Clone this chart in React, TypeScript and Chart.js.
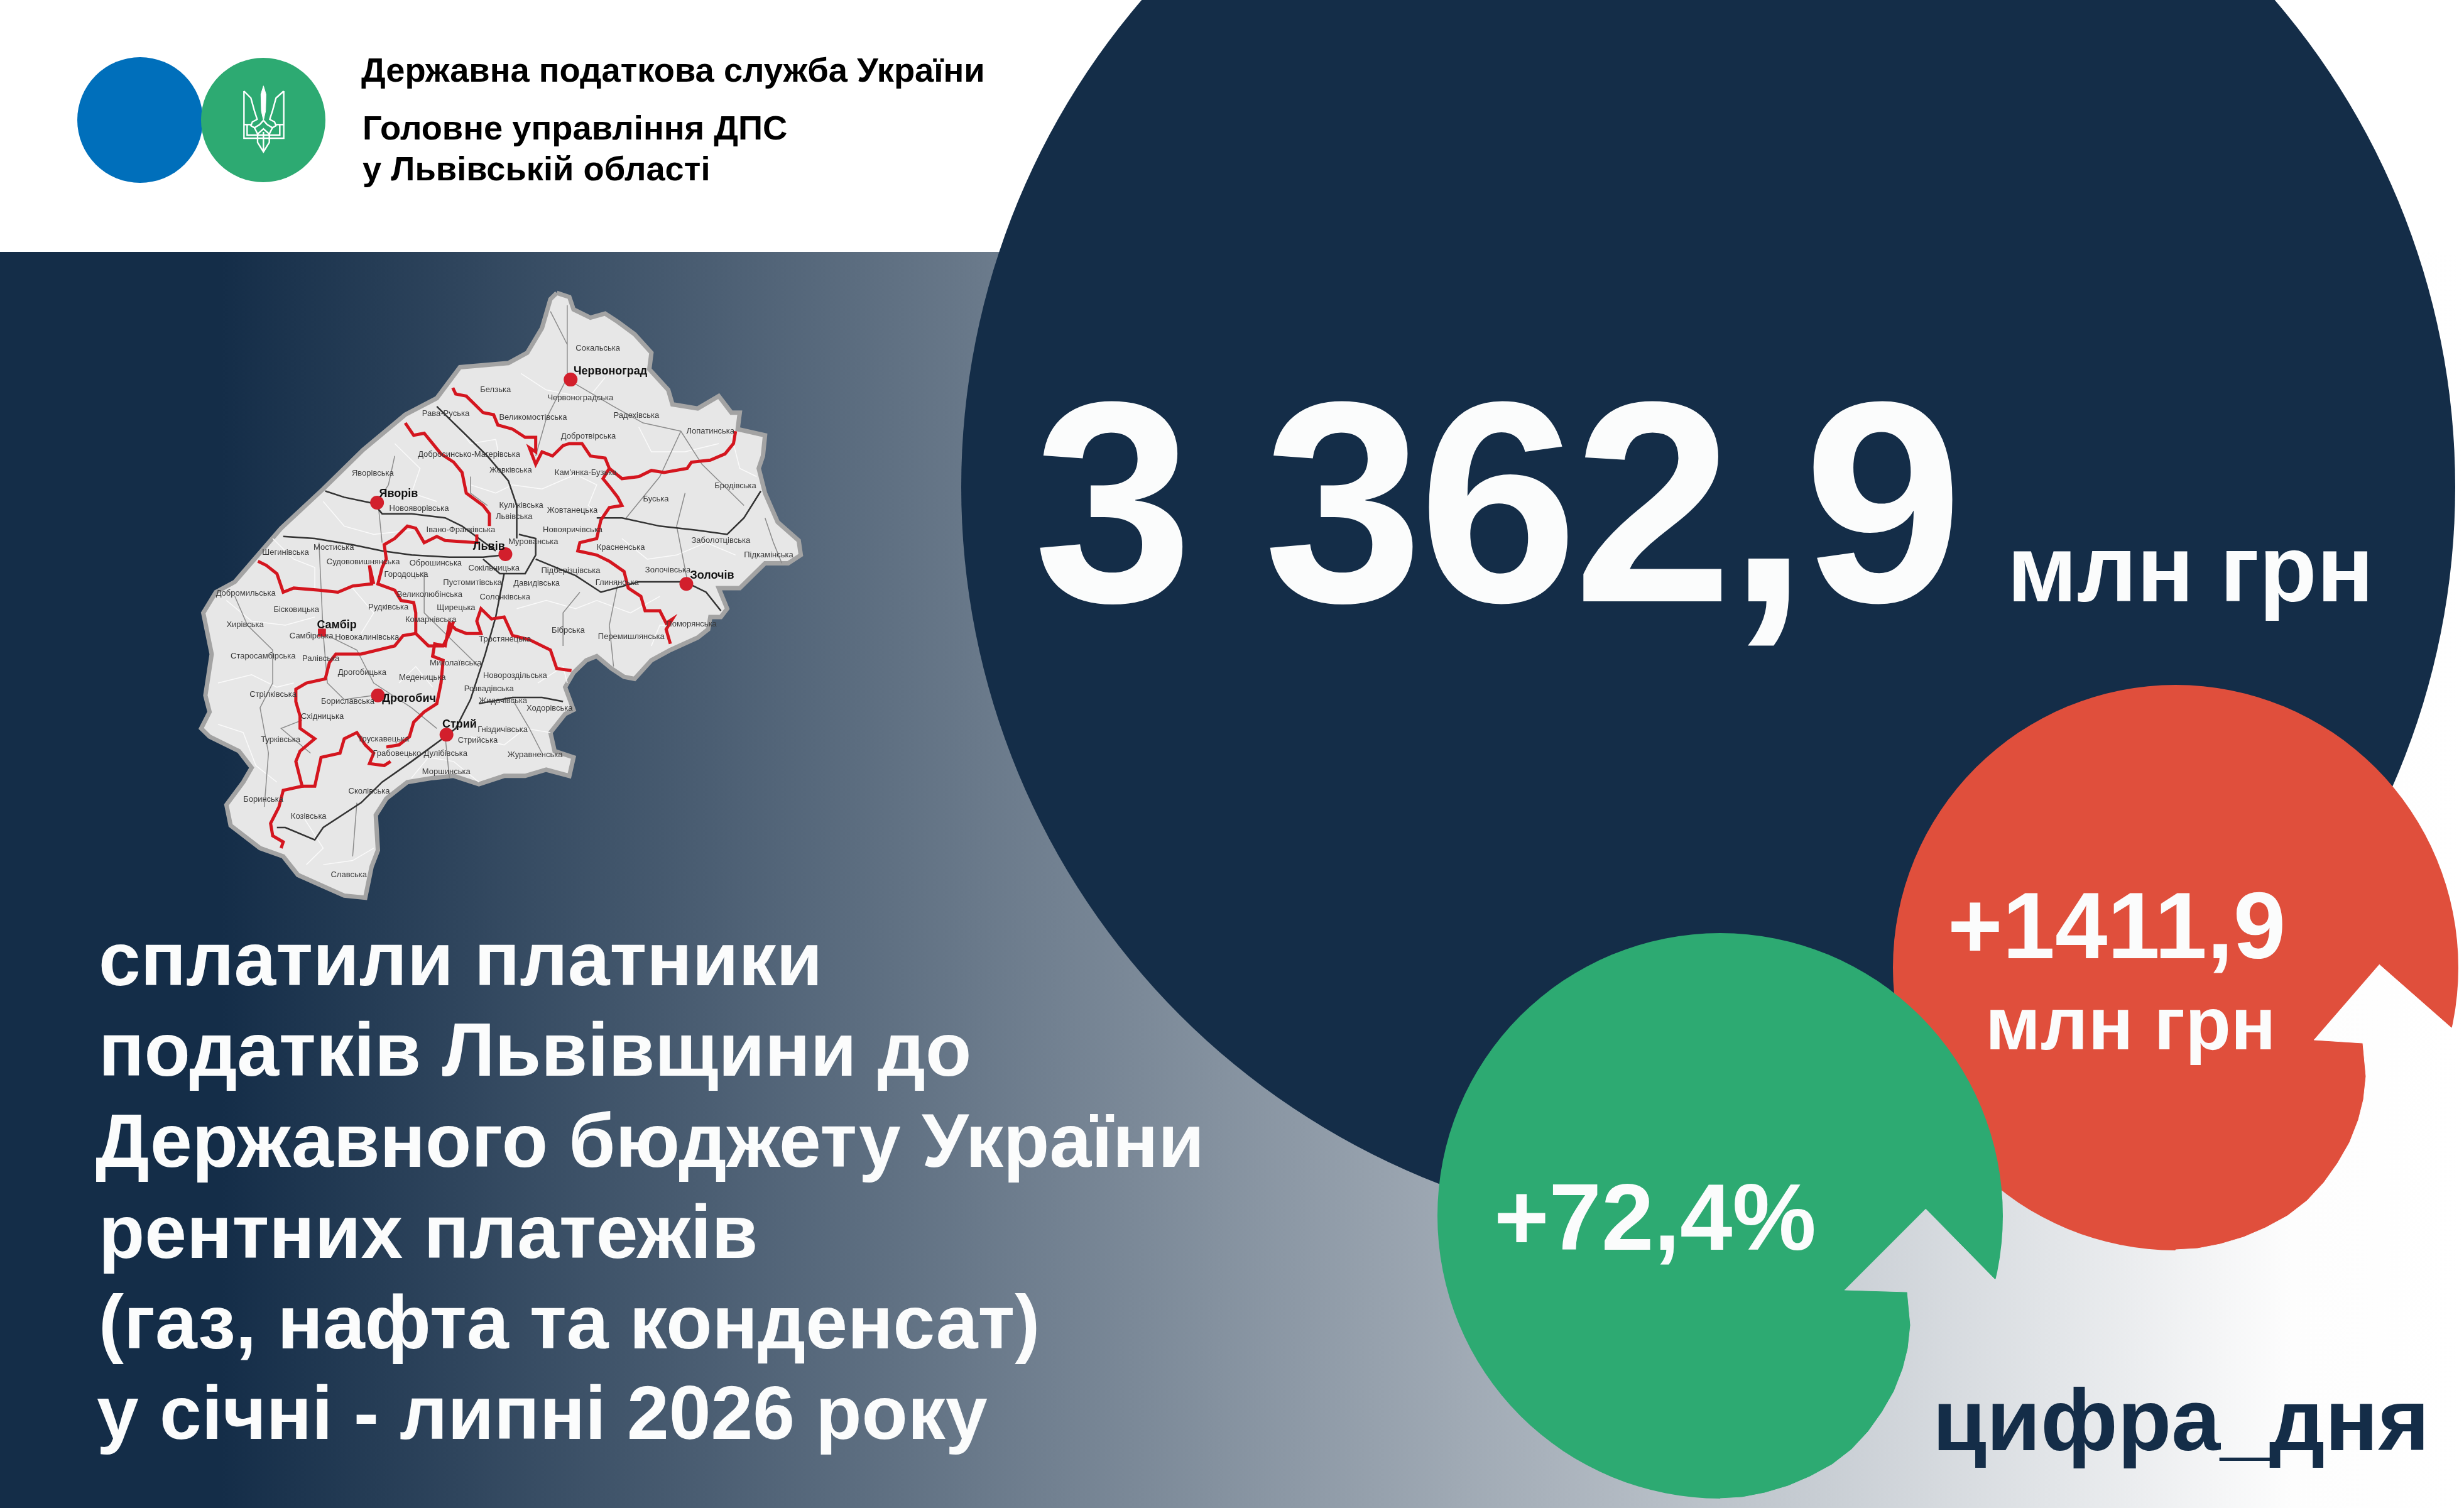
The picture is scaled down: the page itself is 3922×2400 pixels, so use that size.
import React, { useEffect, useRef } from "react";
import { Chart, registerables } from "chart.js";

Chart.register(...registerables);

const NAVY = "#142D48";
const WHITE = "#FBFCFC";
const W = 3922;
const H = 2400;

// circles: [x, y, r]
const navyCircle = [2719, 775, 1189];
const redCircle = [3463, 1540, 450];
const greenCircle = [2738, 1935, 450];
const logoBlue = [223, 191, 100];
const logoGreen = [419, 191, 99];

// cut-outs that reveal the background: arrow head and inner sweep
const redCut: number[][] = [[3787, 1535], [3902, 1636], [3960, 1636], [3960, 2045], [3463, 2045], [3463, 1989], [3498, 1987], [3534, 1980], [3571, 1969], [3606, 1954], [3641, 1935], [3672, 1911], [3699, 1882], [3721, 1851], [3740, 1818], [3754, 1782], [3762, 1750], [3766, 1713], [3761, 1660], [3683, 1655]];
const greenCut: number[][] = [[3065, 1924], [3175, 2036], [3260, 2036], [3260, 2430], [2738, 2430], [2738, 2385], [2773, 2383], [2809, 2376], [2846, 2365], [2881, 2350], [2916, 2331], [2947, 2307], [2974, 2278], [2996, 2247], [3015, 2214], [3029, 2178], [3037, 2146], [3041, 2109], [3036, 2056], [2936, 2053]];

// trident in the logo, in emblem coordinates
const tridentSpear: number[][] = [[178, 50], [190, 90], [188, 170], [178, 215], [168, 170], [166, 90], [178, 50]];
const tridentStrokes: number[][][] = [
  [[85, 75], [85, 300], [275, 300], [275, 75]],
  [[85, 75], [118, 108], [135, 170], [148, 210], [125, 222], [118, 240], [135, 250], [160, 235], [178, 215]],
  [[275, 75], [238, 108], [221, 170], [208, 210], [231, 222], [238, 240], [221, 250], [196, 235], [178, 215]],
  [[135, 250], [150, 280], [150, 320], [178, 365], [206, 320], [206, 280], [221, 250]],
  [[150, 280], [178, 255], [206, 280]],
  [[178, 270], [178, 360]],
  [[100, 235], [100, 285], [256, 285], [256, 235]],
  [[85, 235], [118, 235]],
  [[275, 235], [238, 235]],
];

// Oblast outline, in map coordinates
const mapOutline: number[][] = [[905, 55], [935, 65], [945, 95], [985, 115], [1020, 105], [1050, 125], [1090, 155], [1130, 200], [1125, 240], [1170, 290], [1180, 325], [1240, 335], [1290, 305], [1320, 345], [1340, 345], [1335, 385], [1400, 400], [1395, 450], [1385, 480], [1400, 540], [1430, 610], [1480, 655], [1485, 690], [1455, 710], [1400, 710], [1340, 770], [1290, 770], [1310, 820], [1295, 840], [1270, 840], [1265, 870], [1240, 890], [1175, 920], [1130, 945], [1090, 990], [1065, 985], [1035, 965], [1000, 935], [975, 945], [945, 975], [925, 1010], [945, 1065], [925, 1075], [890, 1120], [900, 1165], [945, 1180], [935, 1225], [880, 1210], [830, 1225], [780, 1225], [720, 1245], [660, 1225], [610, 1230], [550, 1240], [500, 1280], [475, 1320], [480, 1405], [465, 1445], [450, 1520], [400, 1515], [345, 1490], [290, 1465], [255, 1420], [200, 1400], [130, 1345], [120, 1295], [160, 1240], [180, 1205], [150, 1165], [80, 1130], [60, 1110], [80, 1070], [70, 1030], [85, 930], [65, 830], [95, 780], [140, 755], [195, 690], [250, 625], [350, 530], [445, 435], [545, 350], [620, 310], [675, 235], [790, 225], [835, 200], [870, 140], [890, 70], [905, 55]];

const whiteLines: number[][][] = [
  [[700, 520], [760, 540], [800, 520], [870, 530], [960, 490]],
  [[350, 560], [400, 620], [470, 640], [560, 630]],
  [[120, 800], [180, 850], [260, 860], [330, 840]],
  [[100, 1000], [180, 980], [240, 1010], [280, 1000]],
  [[1060, 650], [1120, 700], [1190, 690], [1260, 660], [1330, 690]],
  [[1000, 800], [1080, 830], [1150, 790]],
  [[810, 820], [880, 800], [950, 820], [1000, 800]],
  [[820, 250], [880, 290], [980, 310], [1020, 260]],
  [[520, 420], [580, 480], [560, 540], [620, 560]],
  [[300, 1320], [350, 1400], [310, 1440]],
  [[420, 770], [470, 830], [440, 880]],
  [[1100, 380], [1130, 440], [1210, 440], [1290, 420]],
  [[960, 500], [1000, 520], [980, 570], [1020, 600]],
  [[640, 340], [700, 420], [760, 410], [770, 460]],
  [[230, 650], [280, 700], [330, 720], [330, 770]],
  [[700, 1130], [780, 1150], [830, 1110], [890, 1120]],
  [[530, 1000], [570, 960], [610, 1010]],
  [[100, 1100], [160, 1120], [190, 1200], [240, 1240]],
  [[350, 1440], [420, 1430], [470, 1400]],
  [[1130, 910], [1150, 860], [1230, 860]],
  [[860, 1000], [920, 960], [930, 1000]],
  [[560, 1230], [600, 1180], [660, 1190], [720, 1240]],
  [[1320, 400], [1340, 480], [1380, 500]],
];
const greyLines: number[][][] = [
  [[930, 85], [930, 260], [880, 360], [855, 450]],
  [[890, 100], [930, 180]],
  [[940, 270], [1040, 330], [1110, 370], [1200, 390], [1250, 470], [1290, 510], [1350, 570]],
  [[1200, 390], [1150, 500], [1070, 600]],
  [[520, 450], [505, 520], [480, 560], [490, 660]],
  [[340, 660], [345, 770], [350, 880], [360, 1000], [400, 1040], [470, 1030]],
  [[140, 790], [170, 860], [230, 920], [230, 1000], [200, 1060], [220, 1170], [210, 1300]],
  [[350, 880], [430, 920], [470, 1000], [560, 1060], [620, 1110]],
  [[590, 730], [590, 830], [640, 880], [720, 960]],
  [[700, 500], [700, 540], [740, 570]],
  [[1050, 760], [1030, 860], [1040, 960]],
  [[960, 780], [920, 830], [920, 910]],
  [[1210, 540], [1190, 620], [1215, 750]],
  [[1400, 600], [1420, 660], [1440, 710]],
  [[800, 1040], [840, 1110], [870, 1170]],
  [[640, 1130], [650, 1230]],
  [[430, 1290], [420, 1420]],
  [[300, 1090], [250, 1110], [320, 1170]],
];
const blackLines: number[][][] = [
  [[355, 535], [400, 550], [470, 565], [490, 590], [560, 590], [640, 600], [680, 620], [720, 650], [760, 680]],
  [[255, 645], [330, 650], [420, 665], [490, 680], [560, 690], [650, 695], [730, 695], [780, 690]],
  [[620, 330], [680, 390], [740, 450], [790, 510], [810, 570], [810, 650]],
  [[730, 700], [770, 735], [830, 735], [855, 690], [855, 650], [815, 640]],
  [[780, 735], [760, 840], [735, 930], [700, 1040], [665, 1110], [640, 1130], [560, 1190], [490, 1240], [440, 1290], [350, 1350], [330, 1380], [260, 1350], [240, 1350]],
  [[1000, 600], [1060, 600], [1150, 620], [1240, 630], [1310, 640], [1350, 600], [1390, 535]],
  [[855, 700], [950, 740], [1010, 780], [1100, 755], [1210, 755], [1260, 780], [1295, 825]],
  [[720, 1050], [800, 1035], [870, 1035], [920, 1045]],
];
const redLines: number[][][] = [
  [[658, 285], [665, 300], [690, 305], [710, 325], [730, 345], [755, 350], [765, 375], [800, 385], [830, 405], [855, 405], [855, 440], [840, 430], [855, 470], [870, 440], [895, 450], [920, 425], [935, 420], [965, 420], [985, 450], [1020, 455], [1030, 480], [1060, 505], [1100, 500], [1130, 485], [1160, 490], [1215, 480], [1225, 465], [1270, 460], [1305, 445], [1325, 420], [1330, 390]],
  [[1030, 480], [1015, 505], [1035, 530], [1050, 550], [1060, 570], [1030, 575], [1010, 605], [1000, 650], [960, 660], [955, 680], [1000, 690], [1030, 705], [1065, 730], [1075, 770], [1105, 790], [1115, 825], [1150, 825], [1165, 855], [1180, 845], [1165, 870], [1175, 905]],
  [[545, 370], [565, 400], [590, 395], [610, 420], [630, 445], [660, 465], [680, 490], [690, 540], [730, 570], [745, 590], [745, 620]],
  [[715, 640], [715, 660], [640, 655], [620, 645], [590, 660], [570, 625], [550, 620], [520, 650], [495, 665], [500, 700], [490, 720], [480, 760], [520, 775], [535, 800], [565, 805], [570, 830], [570, 880], [600, 910], [635, 910], [650, 880], [660, 850]],
  [[195, 705], [215, 715], [240, 735], [255, 780], [280, 770], [340, 775], [385, 780], [420, 765], [465, 760], [460, 715], [470, 760]],
  [[940, 970], [905, 965], [890, 920], [840, 895], [800, 885], [780, 840], [750, 845], [725, 820], [715, 850], [725, 880], [690, 880], [665, 870], [650, 855], [640, 910], [615, 905], [610, 935], [635, 945], [630, 1000], [620, 1050], [590, 1070], [565, 1095], [555, 1130], [530, 1150], [500, 1155]],
  [[570, 880], [540, 885], [520, 910], [440, 930], [380, 930], [365, 950], [355, 990], [310, 1000], [285, 1015], [285, 1045], [295, 1080], [295, 1110], [330, 1135], [295, 1165], [285, 1190], [300, 1250], [255, 1260], [245, 1300], [225, 1340], [230, 1370], [255, 1385], [250, 1400]],
  [[300, 1250], [330, 1250], [345, 1180], [390, 1170], [400, 1135], [430, 1120], [450, 1150], [470, 1170], [460, 1195], [495, 1200], [510, 1190]],
];
const cityPoints: number[][] = [[938, 265], [478, 563], [783, 688], [1213, 760], [480, 1030], [643, 1125]];
const sambirMark: number[][] = [[347, 878]];

const cityLabels: [string, number, number][] = [
  ["Червоноград", 945, 252], ["Яворів", 483, 550], ["Львів", 706, 677], ["Золочів", 1222, 747],
  ["Самбір", 335, 867], ["Дрогобич", 490, 1045], ["Стрий", 633, 1108],
];
const communityLabels: [string, number, number][] = [
  ["Сокальська", 950, 195], ["Белзька", 723, 295], ["Червоноградська", 883, 315], ["Радехівська", 1040, 358],
  ["Великомостівська", 768, 362], ["Лопатинська", 1213, 396], ["Добротвірська", 915, 408], ["Рава-Руська", 585, 353],
  ["Яворівська", 418, 498], ["Добросинсько-Магерівська", 575, 452], ["Жовківська", 745, 490], ["Кам'янка-Бузька", 900, 496],
  ["Бродівська", 1280, 528], ["Буська", 1110, 560], ["Новояворівська", 507, 583], ["Куликівська", 768, 576],
  ["Жовтанецька", 882, 587], ["Львівська", 760, 602], ["Івано-Франківська", 595, 634], ["Новояричівська", 872, 635],
  ["Заболотцівська", 1225, 661], ["Підкамінська", 1350, 696], ["Мостиська", 327, 677], ["Шегинівська", 205, 690],
  ["Судововишнянська", 358, 712], ["Городоцька", 495, 742], ["Оброшинська", 555, 715], ["Мурованська", 790, 664],
  ["Сокільницька", 695, 727], ["Красненська", 1000, 678], ["Золочівська", 1115, 732], ["Підберізцівська", 868, 733],
  ["Глинянська", 997, 762], ["Пустомитівська", 635, 762], ["Давидівська", 802, 764], ["Добромильська", 95, 788],
  ["Великолюбінська", 525, 792], ["Солонківська", 722, 798], ["Бісковицька", 232, 828], ["Рудківська", 457, 822],
  ["Щирецька", 620, 824], ["Комарнівська", 545, 852], ["Поморянська", 1165, 863], ["Бібрська", 893, 878],
  ["Перемишлянська", 1003, 894], ["Хирівська", 120, 865], ["Самбірська", 270, 892], ["Новокалинівська", 378, 895],
  ["Тростянецька", 720, 900], ["Старосамбірська", 130, 941], ["Ралівська", 300, 947], ["Миколаївська", 603, 958],
  ["Дрогобицька", 385, 980], ["Меденицька", 530, 993], ["Новороздільська", 730, 988], ["Стрілківська", 175, 1033],
  ["Розвадівська", 685, 1019], ["Бориславська", 345, 1050], ["Жидачівська", 720, 1048], ["Ходорівська", 833, 1067],
  ["Східницька", 297, 1087], ["Гніздичівська", 717, 1118], ["Стрийська", 670, 1145], ["Турківська", 202, 1143],
  ["Трускавецька", 432, 1142], ["Журавненська", 788, 1180], ["Грабовецько-Дулібівська", 468, 1177], ["Моршинська", 585, 1220],
  ["Сколівська", 410, 1268], ["Боринська", 160, 1287], ["Козівська", 273, 1328], ["Славська", 368, 1471],
];

const headerLines: [string, number, number][] = [
  ["Державна податкова служба України", 575, 130],
  ["Головне управління ДПС", 577, 222],
  ["у Львівській області", 577, 287],
];
const bodyLines: [string, number, number][] = [
  ["сплатили платники", 157, 1568],
  ["податків Львівщини до", 157, 1712],
  ["Державного бюджету України", 152, 1857],
  ["рентних платежів", 157, 2002],
  ["(газ, нафта та конденсат)", 157, 2146],
  ["у січні - липні 2026 року", 154, 2290],
];
// text, x, baseline, size, colour, letter spacing
const bigLabels: [string, number, number, number, string, number][] = [
  ["3 362,9", 1645, 957, 456, WHITE, -7],
  ["млн грн", 3195, 957, 150, WHITE, 0],
  ["+1411,9", 3100, 1525, 150, WHITE, 0],
  ["млн грн", 3160, 1670, 119, WHITE, 0],
  ["+72,4%", 2378, 1989, 150, WHITE, 0],
  ["цифра_дня", 3076, 2308, 140, NAVY, 0],
];

const FONT = '"Liberation Sans", Arial, sans-serif';
const pts = (list: number[][]) => list.map(([x, y]) => ({ x, y }));

export default function App() {
  const ref = useRef<HTMLCanvasElement | null>(null);
  useEffect(() => {
    const canvas = ref.current!;
    document.body.style.margin = "0";
    const ctx = canvas.getContext("2d")!;
    const bg = ctx.createLinearGradient(0, 0, W, 0);
    bg.addColorStop(0, NAVY);
    bg.addColorStop(350 / W, NAVY);
    bg.addColorStop(3650 / W, "#FDFDFD");
    bg.addColorStop(1, "#FFFFFF");

    const bubble = (c: number[], color: string, order: number) => ({
      type: "bubble" as const,
      data: [{ x: c[0], y: c[1], r: c[2] }],
      backgroundColor: color,
      borderWidth: 0,
      order,
    });
    const shape = (list: number[][], fill: any, order: number) => ({
      type: "scatter" as const,
      data: pts(list),
      showLine: true,
      fill: "shape",
      backgroundColor: fill,
      borderColor: fill,
      borderWidth: 1,
      pointRadius: 0,
      order,
    });
    const stroke = (list: number[][], color: string, width: number, order: number, xId = "mx", yId = "my") => ({
      type: "scatter" as const,
      data: pts(list),
      showLine: true,
      fill: false,
      borderColor: color,
      borderWidth: width,
      pointRadius: 0,
      xAxisID: xId,
      yAxisID: yId,
      order,
    });

    const datasets: any[] = [
      bubble(navyCircle, NAVY, 100),
      bubble(redCircle, "#E04F3C", 99),
      shape(redCut, bg, 98),
      bubble(greenCircle, "#2DAA72", 97),
      shape(greenCut, bg, 96),
      bubble(logoBlue, "#006FBB", 95),
      bubble(logoGreen, "#2DAA72", 94),
      ...tridentStrokes.map((l) => stroke(l, "#FFFFFF", 2.4, 93, "tx", "ty")),
      { ...stroke(tridentSpear, "#FFFFFF", 1, 93, "tx", "ty"), fill: "shape", backgroundColor: "#FFFFFF" },
      { ...stroke(mapOutline, "#A3A3A3", 7, 90), fill: "shape", backgroundColor: "#E7E7E7" },
      ...whiteLines.map((l) => stroke(l, "#FAFAFA", 1.5, 89)),
      ...greyLines.map((l) => stroke(l, "#8C8C8C", 1.5, 88)),
      ...blackLines.map((l) => stroke(l, "#333333", 2.5, 87)),
      ...redLines.map((l) => stroke(l, "#D4161F", 5, 86)),
      {
        type: "scatter",
        data: pts(cityPoints),
        backgroundColor: "#D21F2C",
        borderWidth: 0,
        pointRadius: 11,
        xAxisID: "mx",
        yAxisID: "my",
        order: 85,
      },
      {
        type: "scatter",
        data: pts(sambirMark),
        pointStyle: "rect",
        backgroundColor: "#D21F2C",
        borderWidth: 0,
        pointRadius: 9,
        xAxisID: "mx",
        yAxisID: "my",
        order: 85,
      },
    ];

    const background = {
      id: "background",
      beforeDraw(chart: any) {
        const c = chart.ctx;
        c.save();
        c.fillStyle = bg;
        c.fillRect(0, 0, W, H);
        c.fillStyle = "#FFFFFF";
        c.fillRect(0, 0, W, 401);
        c.restore();
      },
    };
    const texts = {
      id: "texts",
      afterDatasetsDraw(chart: any) {
        const c = chart.ctx;
        const mx = chart.scales.mx;
        const my = chart.scales.my;
        c.save();
        c.textAlign = "left";
        c.textBaseline = "alphabetic";
        c.fillStyle = "#3A3A3A";
        c.font = `13px ${FONT}`;
        communityLabels.forEach(([t, x, y]) => c.fillText(t, mx.getPixelForValue(x), my.getPixelForValue(y)));
        c.fillStyle = "#111111";
        c.font = `bold 18px ${FONT}`;
        cityLabels.forEach(([t, x, y]) => c.fillText(t, mx.getPixelForValue(x), my.getPixelForValue(y)));
        c.fillStyle = "#000000";
        c.font = `bold 54.3px ${FONT}`;
        headerLines.forEach(([t, x, y]) => c.fillText(t, x, y));
        c.fillStyle = WHITE;
        c.font = `bold 120px ${FONT}`;
        bodyLines.forEach(([t, x, y]) => c.fillText(t, x, y));
        bigLabels.forEach(([t, x, y, size, col, s]) => {
          c.fillStyle = col;
          c.letterSpacing = `${s}px`;
          c.font = `bold ${size}px ${FONT}`;
          c.fillText(t, x, y);
        });
        c.restore();
      },
    };

    const hidden = { display: false, type: "linear" as const };
    const chart = new Chart(canvas, {
      type: "scatter",
      data: { datasets },
      plugins: [background, texts],
      options: {
        animation: false,
        responsive: false,
        devicePixelRatio: 1,
        layout: { padding: 0, autoPadding: false },
        plugins: { legend: { display: false }, title: { display: false }, tooltip: { enabled: false } },
        elements: { line: { tension: 0 } },
        scales: {
          x: { ...hidden, min: 0, max: W },
          y: { ...hidden, min: 0, max: H, reverse: true },
          mx: { ...hidden, axis: "x", min: -280 * 1.493, max: (W - 280) * 1.493 },
          my: { ...hidden, axis: "y", min: -430 * 1.522, max: (H - 430) * 1.522, reverse: true },
          tx: { ...hidden, axis: "x", min: -360 * 3, max: (W - 360) * 3 },
          ty: { ...hidden, axis: "y", min: -120 * 3, max: (H - 120) * 3, reverse: true },
        },
      } as any,
    } as any);
    return () => chart.destroy();
  }, []);
  return <canvas ref={ref} width={W} height={H} style={{ display: "block", width: W, height: H }} />;
}
